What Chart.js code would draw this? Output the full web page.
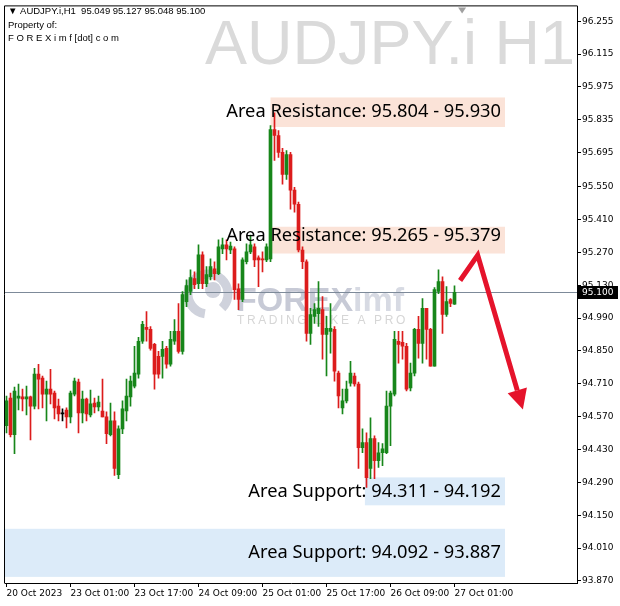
<!DOCTYPE html>
<html>
<head>
<meta charset="utf-8">
<script src="https://cdn.jsdelivr.net/npm/chart.js@4.4.0/dist/chart.umd.min.js"></script>
<style>
  html, body { margin: 0; padding: 0; background: #fff; }
</style>
</head>
<body>
<canvas id="chart" width="620" height="606"></canvas>
<script>
// AUDJPY.i H1 candles (bar 0 = 20 Oct 09:00, last bar = 27 Oct 01:00)
const opens = [94.531, 94.649, 94.493, 94.649, 94.654, 94.645, 94.654, 94.615, 94.751, 94.734,
  94.666, 94.687, 94.670, 94.615, 94.582, 94.598, 94.569, 94.666, 94.717, 94.586,
  94.645, 94.577, 94.628, 94.611, 94.594, 94.569, 94.493, 94.552, 94.323, 94.518,
  94.594, 94.654, 94.700, 94.751, 94.891, 94.950, 94.942, 94.878, 94.827, 94.827,
  94.861, 94.793, 94.891, 94.933, 94.848, 95.060, 95.103, 95.158, 95.136, 95.259,
  95.136, 95.166, 95.200, 95.179, 95.285, 95.302, 95.280, 95.285, 95.115, 95.069,
  95.230, 95.272, 95.293, 95.247, 95.242, 95.238, 95.242, 95.793, 95.768, 95.696,
  95.602, 95.687, 95.535, 95.475, 95.280, 95.230, 94.925, 94.997, 95.009, 95.026,
  94.920, 94.933, 94.942, 94.755, 94.607, 94.637, 94.713, 94.743, 94.709, 94.438,
  94.459, 94.349, 94.476, 94.382, 94.416, 94.416, 94.615, 94.666, 94.891, 94.887,
  94.870, 94.692, 94.755, 94.942, 94.882, 95.031, 94.942, 94.785, 95.103, 95.145,
  95.005, 95.069, 95.049];
const highs = [94.658, 94.670, 94.696, 94.709, 94.687, 94.700, 94.658, 94.776, 94.793, 94.743,
  94.721, 94.772, 94.679, 94.645, 94.603, 94.607, 94.679, 94.734, 94.730, 94.679,
  94.649, 94.683, 94.649, 94.658, 94.730, 94.590, 94.628, 94.590, 94.531, 94.637,
  94.730, 94.743, 94.870, 94.908, 94.976, 95.018, 94.954, 94.882, 94.848, 94.891,
  94.870, 94.933, 94.984, 95.052, 95.103, 95.153, 95.196, 95.187, 95.302, 95.272,
  95.209, 95.242, 95.230, 95.323, 95.331, 95.323, 95.314, 95.293, 95.136, 95.247,
  95.306, 95.344, 95.306, 95.255, 95.272, 95.306, 95.810, 95.865, 95.789, 95.713,
  95.704, 95.696, 95.547, 95.484, 95.293, 95.238, 95.031, 95.052, 95.145, 95.081,
  94.997, 95.052, 94.954, 94.764, 94.687, 94.721, 94.806, 94.755, 94.717, 94.518,
  94.501, 94.565, 94.488, 94.459, 94.455, 94.679, 94.679, 94.933, 94.933, 94.933,
  94.882, 94.798, 94.946, 94.997, 95.073, 95.031, 94.946, 95.120, 95.196, 95.166,
  95.124, 95.073, 95.127];
const lows = [94.501, 94.484, 94.412, 94.598, 94.594, 94.577, 94.471, 94.603, 94.603, 94.607,
  94.552, 94.624, 94.560, 94.552, 94.552, 94.522, 94.543, 94.658, 94.501, 94.543,
  94.552, 94.569, 94.586, 94.594, 94.569, 94.455, 94.488, 94.319, 94.306, 94.497,
  94.552, 94.615, 94.692, 94.734, 94.882, 94.891, 94.853, 94.687, 94.734, 94.734,
  94.776, 94.785, 94.878, 94.840, 94.836, 95.039, 95.090, 95.115, 95.115, 95.115,
  95.124, 95.153, 95.153, 95.175, 95.264, 95.238, 95.264, 95.069, 95.026, 95.060,
  95.221, 95.264, 95.209, 95.124, 95.187, 95.230, 95.230, 95.662, 95.674, 95.560,
  95.581, 95.454, 95.441, 95.272, 95.200, 94.891, 94.878, 94.967, 94.954, 94.815,
  94.743, 94.840, 94.721, 94.607, 94.582, 94.628, 94.700, 94.700, 94.349, 94.416,
  94.268, 94.306, 94.306, 94.353, 94.361, 94.412, 94.446, 94.658, 94.798, 94.815,
  94.679, 94.679, 94.743, 94.819, 94.798, 94.815, 94.785, 94.785, 95.094, 94.925,
  94.997, 95.039, 95.048];
const closes = [94.637, 94.493, 94.679, 94.658, 94.645, 94.654, 94.615, 94.751, 94.730, 94.666,
  94.687, 94.666, 94.607, 94.582, 94.582, 94.569, 94.670, 94.721, 94.586, 94.645,
  94.582, 94.624, 94.611, 94.632, 94.569, 94.497, 94.552, 94.349, 94.518, 94.603,
  94.658, 94.721, 94.755, 94.891, 94.963, 94.942, 94.861, 94.751, 94.751, 94.857,
  94.793, 94.899, 94.933, 94.848, 95.090, 95.128, 95.162, 95.132, 95.259, 95.136,
  95.175, 95.209, 95.179, 95.293, 95.302, 95.285, 95.297, 95.111, 95.069, 95.238,
  95.272, 95.302, 95.238, 95.238, 95.238, 95.293, 95.793, 95.768, 95.696, 95.602,
  95.687, 95.535, 95.475, 95.280, 95.230, 94.925, 95.005, 95.026, 95.031, 94.920,
  94.946, 94.946, 94.764, 94.658, 94.637, 94.687, 94.755, 94.709, 94.438, 94.459,
  94.310, 94.476, 94.382, 94.416, 94.433, 94.615, 94.670, 94.899, 94.878, 94.870,
  94.687, 94.755, 94.942, 94.882, 95.031, 94.942, 94.785, 95.111, 95.145, 95.005,
  95.060, 95.052, 95.100];

const xTickIdx = [0, 16, 32, 48, 64, 80, 96, 112];
const xTickLabels = ['20 Oct 2023', '23 Oct 01:00', '23 Oct 17:00', '24 Oct 09:00',
  '25 Oct 01:00', '25 Oct 17:00', '26 Oct 09:00', '27 Oct 01:00'];
const yTicks = [96.255, 96.115, 95.975, 95.835, 95.695, 95.550, 95.410, 95.270, 95.130,
  94.990, 94.850, 94.710, 94.570, 94.430, 94.290, 94.150, 94.010, 93.870];
const lastPrice = 95.100;

// zones drawn by the analyst
const zoneLow = [95.804, 95.265, 94.192, 93.887];
const zoneHigh = [95.930, 95.379, 94.311, 94.092];
const zoneFrom = [66.0, 66.0, 89.6, -0.4]; // bar index where the box starts
const zoneText = ['Area Resistance: 95.804 - 95.930', 'Area Resistance: 95.265 - 95.379',
  'Area Support: 94.311 - 94.192', 'Area Support: 94.092 - 93.887'];
const zoneKind = ['res', 'res', 'sup', 'sup'];

// forecast arrow (bar index / price)
const arrowX = [113.4, 117.8, 129.1];
const arrowY = [95.150, 95.258, 94.600];

const GREEN = '#17861a', RED = '#dc1c1c';
const candleColor = i => closes[i] > opens[i] ? GREEN : (closes[i] < opens[i] ? RED : '#000');

const wicks = opens.map((_, i) => ({ x: i, y: [lows[i], highs[i]] }));
const bodies = opens.map((_, i) => ({ x: i, y: [opens[i], closes[i]] }));

const overlay = {
  id: 'overlay',
  beforeDatasetsDraw(chart) {
    const { ctx, chartArea: a, scales: { x, y } } = chart;
    ctx.save();
    ctx.beginPath();
    ctx.rect(a.left, a.top, a.right - a.left, a.bottom - a.top);
    ctx.clip();

    // big symbol watermark
    ctx.fillStyle = '#dadada';
    ctx.font = '63px "Liberation Sans"';
    ctx.textAlign = 'right';
    ctx.textBaseline = 'alphabetic';
    ctx.fillText('AUDJPY.i H1', 575, 64);

    // FOREXimf logo watermark
    ctx.strokeStyle = '#cfd2dc';
    ctx.lineWidth = 9;
    ctx.beginPath();
    ctx.arc(208, 294, 20, Math.PI * 0.55, Math.PI * 2.25);
    ctx.stroke();
    ctx.fillStyle = '#cfd2dc';
    ctx.beginPath();
    ctx.arc(213, 290, 8, 0, Math.PI * 2);
    ctx.fill();
    ctx.textAlign = 'left';
    ctx.font = 'bold 34px "Liberation Sans"';
    ctx.fillStyle = '#c7cad6';
    ctx.fillText('FOREX', 236, 311);
    const w = ctx.measureText('FOREX').width;
    ctx.font = 'bold 34px "Liberation Sans"';
    ctx.fillStyle = '#d7dae3';
    ctx.fillText('imf', 236 + w, 311);
    ctx.font = '12px "Liberation Sans"';
    ctx.fillStyle = '#d6d6d6';
    ctx.letterSpacing = '2.6px';
    ctx.fillText('TRADING LIKE A PRO', 237, 324);
    ctx.letterSpacing = '0px';

    // zone boxes
    zoneLow.forEach((lo, i) => {
      const x0 = x.getPixelForValue(zoneFrom[i]);
      const x1 = 505;
      const y0 = y.getPixelForValue(zoneHigh[i]);
      const y1 = y.getPixelForValue(lo);
      ctx.fillStyle = zoneKind[i] === 'res' ? '#fbe3d8' : '#dcebf9';
      ctx.fillRect(x0, y0, x1 - x0, y1 - y0);
    });

    // last price line
    const py = Math.round(y.getPixelForValue(lastPrice)) + 0.5;
    ctx.strokeStyle = '#7d8a99';
    ctx.lineWidth = 1;
    ctx.beginPath();
    ctx.moveTo(a.left, py);
    ctx.lineTo(a.right, py);
    ctx.stroke();
    ctx.restore();
  },
  afterDraw(chart) {
    const { ctx, chartArea: a, scales: { x, y } } = chart;
    ctx.save();

    // zone captions
    ctx.fillStyle = '#000';
    ctx.font = '18.3px "Noto Sans"';
    ctx.textAlign = 'right';
    ctx.textBaseline = 'middle';
    zoneLow.forEach((lo, i) => {
      const yc = (y.getPixelForValue(lo) + y.getPixelForValue(zoneHigh[i])) / 2;
      ctx.fillText(zoneText[i], 501, i === 1 ? yc - 4 : yc);
    });

    // forecast arrow
    const px = arrowX.map(v => x.getPixelForValue(v));
    const pyy = arrowY.map(v => y.getPixelForValue(v));
    const n = px.length - 1;
    const ang = Math.atan2(pyy[n] - pyy[n - 1], px[n] - px[n - 1]);
    const headLen = 20, headW = 10;
    const bx = px[n] - Math.cos(ang) * headLen, by = pyy[n] - Math.sin(ang) * headLen;
    ctx.strokeStyle = '#e5132b';
    ctx.fillStyle = '#e5132b';
    ctx.lineWidth = 5;
    ctx.lineJoin = 'miter';
    ctx.lineCap = 'butt';
    ctx.beginPath();
    ctx.moveTo(px[0], pyy[0]);
    for (let i = 1; i < n; i++) ctx.lineTo(px[i], pyy[i]);
    ctx.lineTo(bx, by);
    ctx.stroke();
    ctx.beginPath();
    ctx.moveTo(px[n], pyy[n]);
    ctx.lineTo(bx + Math.sin(ang) * headW, by - Math.cos(ang) * headW);
    ctx.lineTo(bx - Math.sin(ang) * headW, by + Math.cos(ang) * headW);
    ctx.closePath();
    ctx.fill();

    // header text
    ctx.fillStyle = '#000';
    ctx.textAlign = 'left';
    ctx.textBaseline = 'middle';
    ctx.font = '9.5px "Liberation Sans"';
    ctx.fillText('\u25BC AUDJPY.i,H1  95.049 95.127 95.048 95.100', 8, 11);
    ctx.fillText('Property of:', 8, 25);
    ctx.fillText('F O R E X i m f [dot] c o m', 8, 38);

    // frame
    ctx.strokeStyle = '#000';
    ctx.lineWidth = 1;
    ctx.beginPath();
    ctx.moveTo(a.left - 0.5, a.top - 0.5);
    ctx.lineTo(a.left - 0.5, a.bottom + 0.5);
    ctx.moveTo(a.left - 0.5, a.top - 0.5);
    ctx.lineTo(a.right + 0.5, a.top - 0.5);
    ctx.stroke();

    // chart shift marker
    const sx = x.getPixelForValue(113.9);
    ctx.fillStyle = '#a0a0a0';
    ctx.beginPath();
    ctx.moveTo(sx - 4, a.top + 1);
    ctx.lineTo(sx + 4, a.top + 1);
    ctx.lineTo(sx, a.top + 7);
    ctx.closePath();
    ctx.fill();

    // last price tag on the axis
    const py = Math.round(y.getPixelForValue(lastPrice));
    ctx.fillStyle = '#000';
    ctx.fillRect(a.right + 1, py - 6, 40, 13);
    ctx.fillStyle = '#fff';
    ctx.font = '9px "DejaVu Sans"';
    ctx.fillText(lastPrice.toFixed(3), a.right + 5, py + 0.5);
    ctx.restore();
  }
};

new Chart(document.getElementById('chart'), {
  type: 'bar',
  data: {
    datasets: [
      {
        data: wicks,
        backgroundColor: c => candleColor(c.dataIndex),
        barThickness: 1,
        grouped: false,
        order: 2
      },
      {
        data: bodies,
        backgroundColor: c => candleColor(c.dataIndex),
        barThickness: 3,
        minBarLength: 1,
        grouped: false,
        order: 1
      }
    ]
  },
  options: {
    responsive: false,
    animation: false,
    layout: { padding: { left: 5, top: 3, right: 0, bottom: 0 } },
    plugins: { legend: { display: false }, tooltip: { enabled: false } },
    scales: {
      x: {
        type: 'linear',
        offset: false,
        min: -0.375,
        max: 142.625,
        afterBuildTicks: s => { s.ticks = xTickIdx.map(v => ({ value: v })); },
        afterFit: s => { s.height = 23; },
        grid: { offset: false, drawOnChartArea: false, drawTicks: true, tickLength: 4, color: '#000' },
        border: { display: true, color: '#000' },
        ticks: {
          align: 'start', maxRotation: 0, autoSkip: false, padding: 1, color: '#000',
          font: { family: 'DejaVu Sans', size: 9 },
          callback: v => xTickLabels[xTickIdx.indexOf(v)] || ''
        }
      },
      y: {
        position: 'right',
        min: 93.861,
        max: 96.318,
        afterBuildTicks: s => { s.ticks = yTicks.map(v => ({ value: v })); },
        afterFit: s => { s.width = 43; },
        grid: { drawOnChartArea: false, drawTicks: true, tickLength: 4, color: '#000' },
        border: { display: true, color: '#000' },
        ticks: {
          padding: 1, color: '#000',
          font: { family: 'DejaVu Sans', size: 9 },
          callback: v => v.toFixed(3)
        }
      }
    }
  },
  plugins: [overlay]
});
</script>
</body>
</html>
